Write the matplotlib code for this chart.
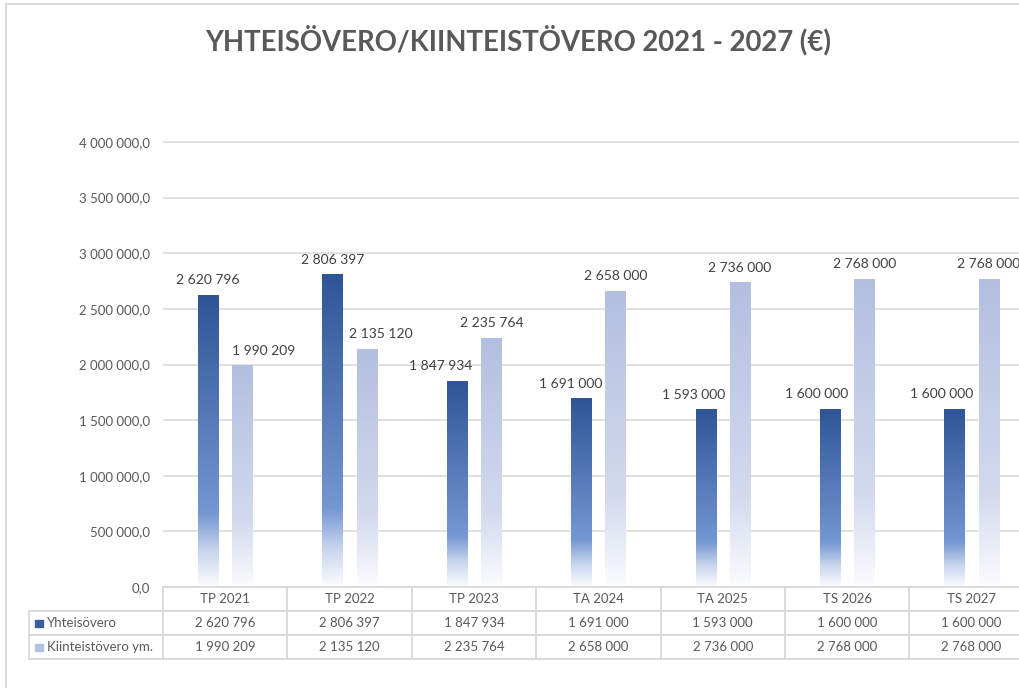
import matplotlib
matplotlib.use("Agg")
import matplotlib.pyplot as plt
import numpy as np
from matplotlib.colors import LinearSegmentedColormap
from matplotlib.lines import Line2D
from matplotlib.patches import Rectangle
from matplotlib.transforms import blended_transform_factory

plt.rcParams['font.family'] = ['Lato', 'DejaVu Sans']

# data
categories = ["TP 2021", "TP 2022", "TP 2023", "TA 2024", "TA 2025", "TS 2026", "TS 2027"]
yhteisovero = [2620796, 2806397, 1847934, 1691000, 1593000, 1600000, 1600000]
kiinteistovero = [1990209, 2135120, 2235764, 2658000, 2736000, 2768000, 2768000]
series_names = ["Yhteisövero", "Kiinteistövero ym."]
title = "YHTEISÖVERO/KIINTEISTÖVERO 2021 - 2027 (€)"

# label nudges (px) like Excel's overlap avoidance
dark_dx = [0, 0, -16, -11, -12, -14, -13]
light_dx = [21, 14, 1, 0, 0, 0, 0]

W, H = 1019, 688
fig = plt.figure(figsize=(W / 100, H / 100), dpi=100)


def fx(px):
    return px / W


def fy(py):
    return 1 - py / H


# plot area: 0 at y=587, 4M at y=142, 7 columns of ~124.4 px starting at x=163
ytop = 4.02e6
col_w = 124.4
ax_h = (587 - 142) * ytop / 4e6
ax = fig.add_axes([fx(163), fy(587), 7 * col_w / W, ax_h / H])
ax.set_xlim(-0.5, 6.5)
ax.set_ylim(0, ytop)

for s in ax.spines.values():
    s.set_visible(False)
ax.set_xticks([])
ax.set_yticks(np.arange(0, 4.0e6 + 1, 5e5))
ax.set_yticklabels([f"{int(v):,}".replace(",", " ") + ",0" for v in ax.get_yticks()])
ax.tick_params(axis='y', length=0, pad=9.5, labelsize=9.5, labelcolor='#595959')
ax.yaxis.grid(True, color='#d9d9d9', lw=1.1)
ax.set_axisbelow(True)

x = np.arange(len(categories))
off = 0.137
bw = 0.162

dark_cmap = LinearSegmentedColormap.from_list(
    "dark", [(0, '#FBFCFE'), (0.12, '#C9D6EE'), (0.25, '#7597D2'), (1, '#2F5597')])
light_cmap = LinearSegmentedColormap.from_list(
    "light", [(0, '#FBFCFE'), (0.3, '#D3DAEE'), (1, '#B3BFE0')])
grad = np.linspace(0, 1, 256).reshape(-1, 1)

bars_dark = ax.bar(x - off, yhteisovero, bw, color='none', edgecolor='none')
bars_light = ax.bar(x + off, kiinteistovero, bw, color='none', edgecolor='none')
for bars, cmap in [(bars_dark, dark_cmap), (bars_light, light_cmap)]:
    for b in bars:
        x0, y0 = b.get_x(), b.get_y()
        ax.imshow(grad, cmap=cmap, origin='lower', aspect='auto',
                  extent=(x0, x0 + b.get_width(), y0, y0 + b.get_height()),
                  zorder=2, interpolation='bilinear')
ax.set_xlim(-0.5, 6.5)
ax.set_ylim(0, ytop)


def fmt(v):
    return f"{v:,}".replace(",", " ")


for i in range(len(categories)):
    ax.annotate(fmt(yhteisovero[i]), (x[i] - off, yhteisovero[i]),
                xytext=(dark_dx[i] * 0.72, 6.5), textcoords='offset points',
                ha='center', va='bottom', fontsize=10, color='#404040',
                annotation_clip=False)
    ax.annotate(fmt(kiinteistovero[i]), (x[i] + off, kiinteistovero[i]),
                xytext=(light_dx[i] * 0.72, 6.5), textcoords='offset points',
                ha='center', va='bottom', fontsize=10, color='#404040',
                annotation_clip=False)

# data table
grid_c = '#d9d9d9'
tr = blended_transform_factory(ax.transData, fig.transFigure)
rows_y = [587, 611, 635, 659]
fig.add_artist(Line2D([fx(163), 1], [fy(587)] * 2, color=grid_c, lw=1.3))
for yy in rows_y[1:]:
    fig.add_artist(Line2D([fx(29), 1], [fy(yy)] * 2, color=grid_c, lw=1.3))
fig.add_artist(Line2D([fx(29)] * 2, [fy(611), fy(659)], color=grid_c, lw=1.3))
for b in np.arange(-0.5, 7.0, 1):
    ax.add_line(Line2D([b, b], [fy(587), fy(659)], color=grid_c, lw=1.3,
                       transform=tr, clip_on=False))

for i, cat in enumerate(categories):
    ax.text(x[i], fy(599), cat, transform=tr, ha='center', va='center',
            fontsize=9.5, color='#595959', clip_on=False)
    ax.text(x[i], fy(623), fmt(yhteisovero[i]), transform=tr, ha='center',
            va='center', fontsize=9.5, color='#595959', clip_on=False)
    ax.text(x[i], fy(647), fmt(kiinteistovero[i]), transform=tr, ha='center',
            va='center', fontsize=9.5, color='#595959', clip_on=False)

for name, yy, c in [(series_names[0], 623, '#3A5FA0'), (series_names[1], 647, '#B4C0E0')]:
    fig.add_artist(Rectangle((fx(35), fy(yy + 3.5)), 8 / W, 7 / H,
                             transform=fig.transFigure, color=c))
    fig.text(fx(47), fy(yy), name, ha='left', va='center', fontsize=9.5,
             color='#595959')

# chart frame and title
fig.add_artist(Line2D([fx(6), 1], [fy(4)] * 2, color=grid_c, lw=1.5))
fig.add_artist(Line2D([fx(6)] * 2, [fy(4), 0], color=grid_c, lw=1.5))
fig.text(fx(518), fy(40), title, ha='center', va='center', fontsize=19.8,
         fontweight='bold', color='#595959')

fig.savefig("out.png", dpi=100)
